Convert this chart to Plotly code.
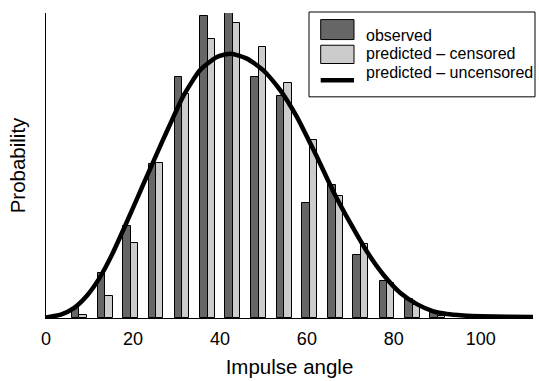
import plotly.graph_objects as go

# ---- data ----
bin_centers = [7.7, 13.6, 19.5, 25.3, 31.3, 37.2, 42.9, 48.9, 54.8, 60.6, 66.6, 72.4, 78.4, 84.3, 90.1]
observed = [0.0049, 0.0226, 0.0464, 0.0776, 0.1214, 0.1524, 0.1538, 0.1214, 0.1117, 0.0580,
            0.0669, 0.0320, 0.0189, 0.0096, 0.0025]
predicted_censored = [0.0015, 0.0109, 0.0377, 0.0780, 0.1130, 0.1405, 0.1490, 0.1367, 0.1184,
                      0.0900, 0.0614, 0.0372, 0.0176, 0.0065, 0.0012]
curve_x = [0, 3.4, 6.4, 9.5, 12.4, 15.3, 18.2, 21.2, 24.1, 26.8, 28.5, 31.6, 35.4, 39.3, 42.5,
           46.2, 50.0, 53.9, 57.7, 60.4, 62.3, 66.1, 70.0, 73.8, 77.6, 81.5, 85.3, 89.1, 92.2,
           96, 100, 106, 112]
curve_y = [0.0003, 0.0017, 0.0050, 0.0115, 0.0205, 0.0325, 0.0465, 0.0615, 0.0760, 0.0893,
           0.0975, 0.1120, 0.1249, 0.1316, 0.1333, 0.1308, 0.1249, 0.1148, 0.1014, 0.0897,
           0.0813, 0.0637, 0.0478, 0.0335, 0.0218, 0.0126, 0.0070, 0.0033, 0.0020, 0.0013,
           0.0009, 0.0006, 0.0005]
x_ticks = [0, 20, 40, 60, 80, 100]
legend_labels = ["observed", "predicted \u2013 censored", "predicted \u2013 uncensored"]

W, H = 539, 381
L, R, T, B = 46, 6, 12.7, 62.7
pw, ph = W - L - R, H - T - B

def px(x, y):
    return (x - L) / pw, (H - B - y) / ph

FONT = "Liberation Sans, Arial, sans-serif"
DARK = "#666666"
LIGHT = "#cccccc"

fig = go.Figure()
fig.add_trace(go.Bar(x=bin_centers, y=observed, width=1.7, offset=-1.7,
                     marker=dict(color=DARK, line=dict(color="black", width=1)),
                     name=legend_labels[0], showlegend=False))
fig.add_trace(go.Bar(x=bin_centers, y=predicted_censored, width=1.7, offset=0,
                     marker=dict(color=LIGHT, line=dict(color="black", width=1)),
                     name=legend_labels[1], showlegend=False))
fig.add_trace(go.Scatter(x=curve_x, y=curve_y, mode="lines",
                         line=dict(color="black", width=4.5, shape="spline", smoothing=0.6),
                         name=legend_labels[2], showlegend=False))

shapes = []
annotations = []
# legend box
x0, y0 = px(309, 11.7)
x1, y1 = px(535, 96.7)
shapes.append(dict(type="rect", xref="paper", yref="paper", x0=x0, y0=y1, x1=x1, y1=y0,
                   line=dict(color="black", width=1), fillcolor="white", layer="above"))
# swatches
for (top, bot), col in [((19.3, 39.3), DARK), ((45, 63.3), LIGHT)]:
    a0, b0 = px(320.7, top)
    a1, b1 = px(354, bot)
    shapes.append(dict(type="rect", xref="paper", yref="paper", x0=a0, y0=b1, x1=a1, y1=b0,
                       line=dict(color="black", width=1), fillcolor=col, layer="above"))
a0, b0 = px(320.7, 80)
a1, _ = px(354, 80)
shapes.append(dict(type="line", xref="paper", yref="paper", x0=a0, y0=b0, x1=a1, y1=b0,
                   line=dict(color="black", width=4.5), layer="above"))
for lab, yc in zip(legend_labels, [35, 53.5, 72]):
    ax, ay = px(364, yc)
    annotations.append(dict(text=lab, xref="paper", yref="paper", x=ax, y=ay,
                            xanchor="left", yanchor="middle", showarrow=False,
                            font=dict(family=FONT, size=16, color="black")))

fig.update_layout(
    width=W, height=H,
    margin=dict(l=L, r=R, t=T, b=B),
    paper_bgcolor="white", plot_bgcolor="white",
    barmode="overlay", bargap=0,
    font=dict(family=FONT, color="black"),
    shapes=shapes, annotations=annotations,
    xaxis=dict(range=[0, 112], tickvals=x_ticks, ticks="", showgrid=False, zeroline=False,
               automargin=False,
               showline=True, linecolor="black", linewidth=1,
               tickfont=dict(family=FONT, size=18, color="black"), ticklabelstandoff=4,
               title=dict(text="Impulse angle", font=dict(family=FONT, size=20.5, color="black"),
                          standoff=12)),
    yaxis=dict(range=[0, 0.1538], showticklabels=False, ticks="", showgrid=False,
               zeroline=False, showline=True, linecolor="black", linewidth=1,
               automargin=False,
               title=dict(text="Probability", font=dict(family=FONT, size=20.5, color="black"),
                          standoff=13)),
)

fig.write_html("out.html", config={"displayModeBar": False},
               post_script="document.body.style.margin='0';document.body.style.overflow='hidden';")
